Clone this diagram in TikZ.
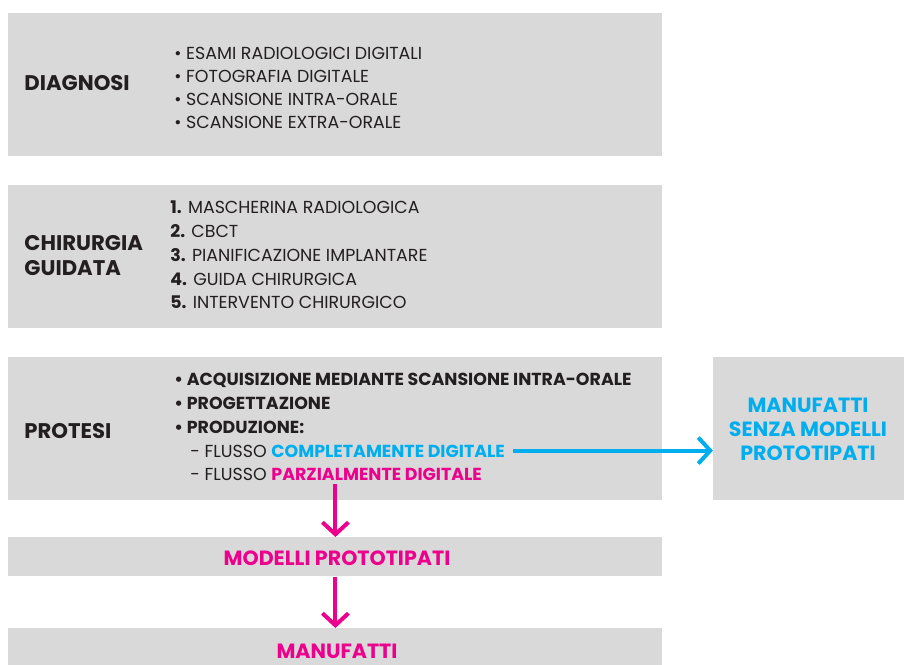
\documentclass[tikz,border=0pt]{standalone}
\usepackage{fontspec}
\setmainfont{Poppins}
\usetikzlibrary{arrows.meta,positioning}
\definecolor{boxgray}{HTML}{D9D9D9}
\definecolor{ink}{HTML}{231F20}
\definecolor{cyanflow}{HTML}{00AEEF}
\definecolor{pinkflow}{HTML}{EC008C}

\begin{document}
\begin{tikzpicture}[x=0.5pt,y=-0.5pt,
  box/.style={fill=boxgray,inner sep=0pt,anchor=north west},
  head/.style={anchor=base west,inner sep=0pt,font=\fontsize{10.6}{12}\selectfont\bfseries,text=ink},
  item/.style={anchor=base west,inner sep=0pt,font=\fontsize{8.7}{10}\selectfont,text=ink},
  bitem/.style={item,font=\fontsize{8.7}{10}\selectfont\bfseries},
  result/.style={anchor=base,inner sep=0pt,font=\fontsize{10.3}{12}\selectfont\bfseries},
  flow/.style={line width=2pt,-{Straight Barb[length=6pt,width=13pt,line width=2pt]}}]
\useasboundingbox (0,0) rectangle (904,664);
% boxes
\node[box,minimum width=327pt,minimum height=71.5pt] (diag) at (8,13) {};
\node[box,minimum width=327pt,minimum height=71.5pt] (chir) at (8,185) {};
\node[box,minimum width=327pt,minimum height=71.5pt] (prot) at (8,357) {};
\node[box,minimum width=95.5pt,minimum height=71.5pt] (senza) at (713,357) {};
\node[box,minimum width=327pt,minimum height=19.5pt] (modelli) at (8,537) {};
\node[box,minimum width=327pt,minimum height=20pt] (manuf) at (8,628) {};
% diagnosi
\node[head] (diagT) at (24,90) {DIAGNOSI};
\node[item] (d1) at (174,59) {• ESAMI RADIOLOGICI DIGITALI};
\node[item] (d2) at (174,82) {• FOTOGRAFIA DIGITALE};
\node[item] (d3) at (174,105) {• SCANSIONE INTRA-ORALE};
\node[item] (d4) at (174,128) {• SCANSIONE EXTRA-ORALE};
% chirurgia guidata
\node[head] (chirA) at (24,250) {CHIRURGIA};
\node[head] (chirB) at (24,275) {GUIDATA};
\node[item] (c1) at (170,213) {\textbf{1.} MASCHERINA RADIOLOGICA};
\node[item] (c2) at (170,237) {\textbf{2.} CBCT};
\node[item] (c3) at (170,261) {\textbf{3.} PIANIFICAZIONE IMPLANTARE};
\node[item] (c4) at (170,285) {\textbf{4.} GUIDA CHIRURGICA};
\node[item] (c5) at (170,308) {\textbf{5.} INTERVENTO CHIRURGICO};
% protesi
\node[head] (protT) at (24,438) {PROTESI};
\node[bitem] (p1) at (174,385) {• ACQUISIZIONE MEDIANTE SCANSIONE INTRA-ORALE};
\node[bitem] (p2) at (174,409) {• PROGETTAZIONE};
\node[bitem] (p3) at (174,433) {• PRODUZIONE:};
\node[item] (flussoA) at (190,457) {- FLUSSO \textbf{\color{cyanflow}COMPLETAMENTE DIGITALE}};
\node[item] (flussoB) at (190,480) {- FLUSSO \textbf{\color{pinkflow}PARZIALMENTE DIGITALE}};
% results
\node[result,text=cyanflow] (s1) at (808,412) {MANUFATTI};
\node[result,text=cyanflow] (s2) at (808,436) {SENZA MODELLI};
\node[result,text=cyanflow] (s3) at (808,460) {PROTOTIPATI};
\node[result,text=pinkflow] (modT) at (337,565) {MODELLI PROTOTIPATI};
\node[result,text=pinkflow] (manT) at (337,658) {MANUFATTI};
% arrows
\coordinate (bstart) at ([xshift=4pt,yshift=3.2pt]flussoA.base east);
\draw[flow,cyanflow] (bstart) -- (bstart -| senza.west);
\coordinate (pstart) at (flussoB.south -| modelli.north);
\draw[flow,pinkflow] ([yshift=-1.5pt]pstart) -- (modelli.north);
\draw[flow,pinkflow] (modelli.south) -- (manuf.north);
\end{tikzpicture}
\end{document}
